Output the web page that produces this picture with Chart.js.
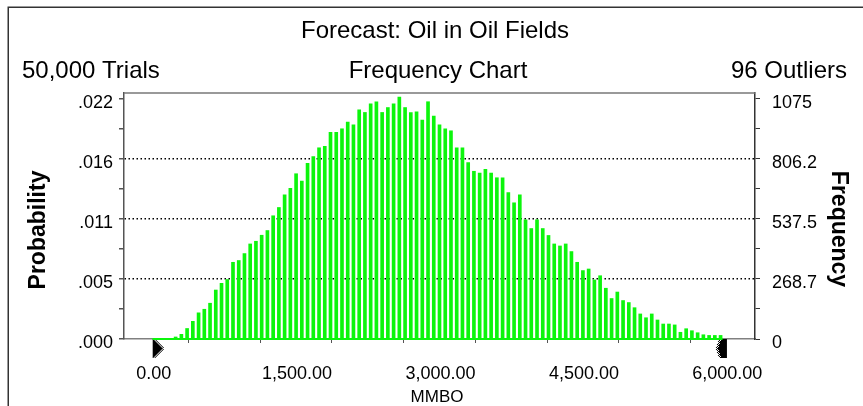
<!DOCTYPE html>
<html>
<head>
<meta charset="utf-8">
<script src="https://cdn.jsdelivr.net/npm/chart.js@4/dist/chart.umd.min.js"></script>
<style>
  html, body { margin: 0; padding: 0; background: #fff; }
</style>
</head>
<body>
<canvas id="myChart" width="863" height="406"></canvas>
<script>
// bin lower bounds (MMBO), 100 cells of width 60
var binStarts = [
  0, 60, 120, 180, 240, 300, 360, 420, 480, 540,
  600, 660, 720, 780, 840, 900, 960, 1020, 1080, 1140,
  1200, 1260, 1320, 1380, 1440, 1500, 1560, 1620, 1680, 1740,
  1800, 1860, 1920, 1980, 2040, 2100, 2160, 2220, 2280, 2340,
  2400, 2460, 2520, 2580, 2640, 2700, 2760, 2820, 2880, 2940,
  3000, 3060, 3120, 3180, 3240, 3300, 3360, 3420, 3480, 3540,
  3600, 3660, 3720, 3780, 3840, 3900, 3960, 4020, 4080, 4140,
  4200, 4260, 4320, 4380, 4440, 4500, 4560, 4620, 4680, 4740,
  4800, 4860, 4920, 4980, 5040, 5100, 5160, 5220, 5280, 5340,
  5400, 5460, 5520, 5580, 5640, 5700, 5760, 5820, 5880, 5940
];
// trial counts per cell
var frequency = [
  0, 0, 0, 0, 9, 21, 47, 79, 117, 133,
  160, 219, 249, 266, 343, 351, 382, 425, 437, 464,
  485, 551, 588, 645, 674, 739, 706, 786, 816, 855,
  862, 924, 924, 940, 970, 958, 1025, 1013, 1052, 1061,
  1013, 1035, 1052, 1082, 1035, 1013, 1016, 979, 1061, 997,
  958, 940, 931, 855, 855, 789, 750, 742, 759, 742,
  721, 721, 655, 609, 645, 533, 494, 533, 494, 463,
  425, 416, 425, 391, 343, 306, 313, 264, 283, 227,
  181, 210, 172, 163, 140, 112, 95, 112, 85, 67,
  67, 63, 30, 46, 37, 28, 19, 16, 16, 16
];
var certaintyRange = [0, 5960];
var grabberValues = [0, 5954];

var freqTicks = [0, 134.375, 268.75, 403.125, 537.5, 671.875, 806.25, 940.625, 1075];
var freqLabels = ['0', '', '268.7', '', '537.5', '', '806.2', '', '1075'];
var probLabels = ['.000', '', '.005', '', '.011', '', '.016', '', '.022'];
var gridValues = [268.75, 537.5, 806.25];
var xTicks = [0, 750, 1500, 2250, 3000, 3750, 4500, 5250, 6000];
var xLabels = ['0.00', '', '1,500.00', '', '3,000.00', '', '4,500.00', '', '6,000.00'];

var FONT = "'Liberation Sans', Arial, sans-serif";
Chart.defaults.font.family = FONT;
Chart.defaults.font.size = 18;
Chart.defaults.color = '#000';

// end-point grabbers, drawn in the lower half of the image so they hang below the axis
function makeGrabber(pointRight) {
  var c = document.createElement('canvas');
  c.width = 24; c.height = 42;
  var g = c.getContext('2d');
  g.fillStyle = '#000';
  var x0 = pointRight ? 12 : 6;
  for (var yy = 0; yy < 19; yy++) {
    for (var xx = 0; xx < 11; xx++) {
      var px = pointRight ? xx : 10 - xx;
      var w = pointRight ? 11 * (1 - Math.abs(yy - 9) / 12) : 11 - Math.abs(yy - 9) * 0.35;
      if (px >= w) continue;
      if (px < w - 2.5 || (xx + yy) % 2 === 0) g.fillRect(x0 + xx, 21 + yy, 1, 1);
    }
  }
  return c;
}
var grabberStyles = [makeGrabber(true), makeGrabber(false)];

var decorations = {
  id: 'decorations',
  afterDraw: function (chart) {
    var c = chart.ctx, a = chart.chartArea;
    c.save();
    // outer frame
    c.strokeStyle = '#333';
    c.lineWidth = 1.5;
    c.beginPath();
    c.moveTo(8.25, 406); c.lineTo(8.25, 7.25); c.lineTo(863, 7.25);
    c.stroke();
    // top of plot box
    c.strokeStyle = '#777';
    c.beginPath();
    c.moveTo(a.left, a.top); c.lineTo(a.right, a.top);
    c.stroke();

    c.fillStyle = '#000';
    c.textBaseline = 'alphabetic';
    c.font = '24px ' + FONT;
    c.textAlign = 'center';
    c.fillText('Forecast: Oil in Oil Fields', 435, 38);
    c.fillText('Frequency Chart', 438, 78);
    c.textAlign = 'left';
    c.fillText('50,000 Trials', 22, 78);
    c.textAlign = 'right';
    c.fillText('96 Outliers', 847, 78);

    c.font = '17px ' + FONT;
    c.textAlign = 'center';
    c.fillText('MMBO', 437, 402);

    c.font = 'bold 23px ' + FONT;
    c.textBaseline = 'middle';
    c.save();
    c.translate(39, 230);
    c.rotate(-Math.PI / 2);
    c.fillText('Probability', 0, 0);
    c.restore();
    c.save();
    c.translate(838, 229);
    c.rotate(Math.PI / 2);
    c.fillText('Frequency', 0, 0);
    c.restore();
    c.restore();
  }
};

var ctx = document.getElementById('myChart');
var myChart = new Chart(ctx, {
  type: 'bar',
  data: {
    datasets: [{
      type: 'bar',
      data: binStarts.map(function (b, i) { return { x: b, y: frequency[i] }; }),
      backgroundColor: '#0cf50c',
      borderWidth: 0,
      barThickness: 3,
      xAxisID: 'x',
      yAxisID: 'yFreq'
    }, {
      type: 'line',
      data: certaintyRange.map(function (v) { return { x: v, y: 0 }; }),
      borderColor: '#0cf50c',
      borderWidth: 2,
      pointRadius: 0,
      clip: false,
      xAxisID: 'x',
      yAxisID: 'yFreq'
    }, {
      type: 'line',
      data: grabberValues.map(function (v) { return { x: v, y: 0 }; }),
      showLine: false,
      pointStyle: grabberStyles,
      pointRadius: 6,
      clip: false,
      xAxisID: 'x',
      yAxisID: 'yFreq'
    }]
  },
  options: {
    responsive: false,
    animation: false,
    devicePixelRatio: 1,
    layout: { padding: { top: 93, left: 0, right: 0, bottom: 0 } },
    plugins: { legend: { display: false }, tooltip: { enabled: false } },
    scales: {
      x: {
        type: 'linear',
        position: 'bottom',
        min: -300,
        max: 6300,
        offset: false,
        afterBuildTicks: function (s) { s.ticks = xTicks.map(function (v) { return { value: v }; }); },
        afterFit: function (s) { s.height = 67; },
        ticks: {
          autoSkip: false,
          maxRotation: 0,
          padding: 20,
          labelOffset: 1,
          callback: function (v, i) { return xLabels[i]; }
        },
        grid: { drawOnChartArea: false, tickLength: 4, tickColor: '#555' },
        border: { color: '#808080', width: 1.5 }
      },
      yProb: {
        type: 'linear',
        position: 'left',
        min: 0,
        max: 1100,
        afterBuildTicks: function (s) { s.ticks = freqTicks.map(function (v) { return { value: v }; }); },
        afterFit: function (s) { s.width = 124; },
        ticks: {
          autoSkip: false,
          padding: 6,
          labelOffset: 4,
          callback: function (v, i) { return probLabels[i]; }
        },
        grid: {
          color: function (c) { return c.tick && gridValues.indexOf(c.tick.value) >= 0 ? '#000' : 'rgba(0,0,0,0)'; },
          lineWidth: 1.5,
          tickLength: 5,
          tickColor: '#555'
        },
        border: { color: '#555', width: 1.5, dash: [1.5, 2.5] }
      },
      yFreq: {
        type: 'linear',
        position: 'right',
        min: 0,
        max: 1100,
        afterBuildTicks: function (s) { s.ticks = freqTicks.map(function (v) { return { value: v }; }); },
        afterFit: function (s) { s.width = 108; },
        ticks: {
          autoSkip: false,
          padding: 12,
          labelOffset: 4,
          callback: function (v, i) { return freqLabels[i]; }
        },
        grid: { drawOnChartArea: false, tickLength: 5, tickColor: '#333' },
        border: { color: '#333', width: 1.5 }
      }
    }
  },
  plugins: [decorations]
});
</script>
</body>
</html>
